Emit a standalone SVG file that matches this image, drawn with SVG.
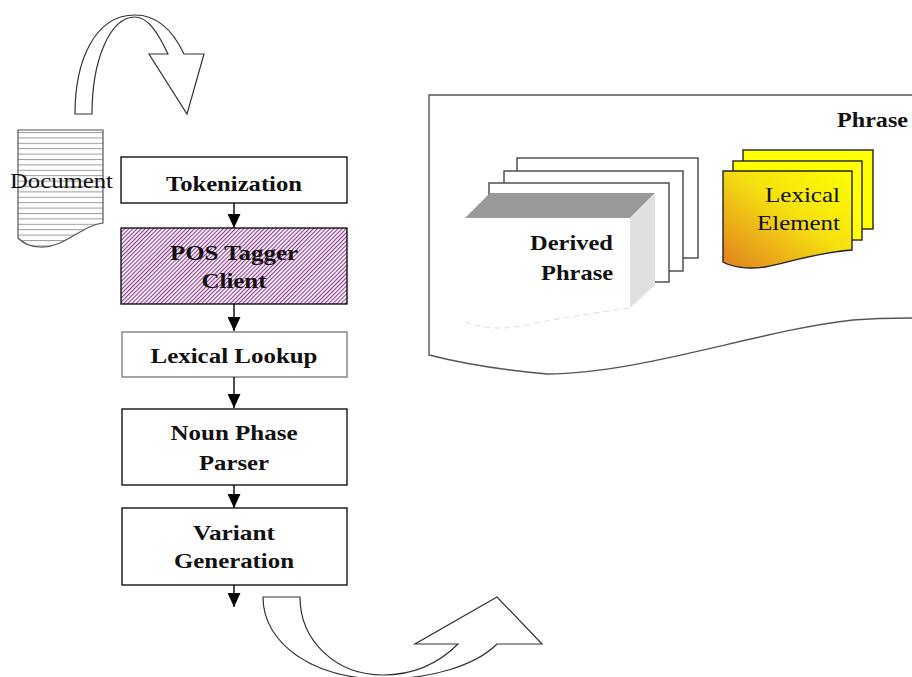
<svg xmlns="http://www.w3.org/2000/svg" width="912" height="677" viewBox="0 0 912 677">
  <defs>
    <style>
      .box { fill: #fff; stroke: #000; stroke-width: 1.3; }
      .lbl { font-family: "Liberation Serif", "Times New Roman", serif; font-size: 22px; font-weight: bold; fill: #111; text-anchor: middle; }
      .reg { font-family: "Liberation Serif", "Times New Roman", serif; font-size: 22px; fill: #111; }
      .bend { fill: #fff; stroke: #333; stroke-width: 1.2; stroke-linejoin: miter; }
      .sheet { fill: #fff; stroke: #444; stroke-width: 1.4; }
      .ysheet { fill: #ffff00; stroke: #222; stroke-width: 1.4; }
      .flow { stroke: #000; stroke-width: 1.4; fill: none; marker-end: url(#head); }
    </style>
    <marker id="head" viewBox="0 0 14 13" refX="14" refY="6.5" markerWidth="14" markerHeight="13" markerUnits="userSpaceOnUse" orient="auto">
      <path d="M0,0 L14,6.5 L0,13 Z" fill="#000"/>
    </marker>
    <pattern id="hatch" patternUnits="userSpaceOnUse" width="2.9" height="6" patternTransform="rotate(45)">
      <rect width="2.9" height="6" fill="#fbf3fb"/>
      <rect width="1.1" height="6" fill="#8c3f8f"/>
    </pattern>
    <pattern id="ruled" patternUnits="userSpaceOnUse" x="0" y="132" width="10" height="5.4">
      <rect width="10" height="5.4" fill="#fff"/>
      <rect y="0" width="10" height="1" fill="#9a9a9a"/>
    </pattern>
    <linearGradient id="lexfill" x1="0" y1="1" x2="1" y2="0">
      <stop offset="0" stop-color="#e07f20"/>
      <stop offset="0.55" stop-color="#f5e010"/>
      <stop offset="1" stop-color="#ffff00"/>
    </linearGradient>
  </defs>

  <!-- curved arrow entering the pipeline -->
  <g id="arrow-in">
    <path class="bend" d="M75,114 C75,60 95,15 135,15 C160,15 175,35 184,54 L204,54 L187,114 L149,54 L168,54 C158,33 148,17 135,17 C110,17 92,60 92,114 Z"/>
  </g>

  <!-- source document -->
  <g id="document">
    <path d="M18,130 H103 V223 C80,226 65,248 40,247 C30,247 22,242 18,238 Z" fill="url(#ruled)" stroke="#555" stroke-width="1.2"/>
    <text class="reg" x="10" y="188" textLength="103" lengthAdjust="spacingAndGlyphs">Document</text>
  </g>

  <!-- pipeline stages -->
  <g id="tokenization">
    <rect class="box" x="121" y="157" width="226" height="46"/>
    <text class="lbl" x="234" y="191" textLength="136" lengthAdjust="spacingAndGlyphs">Tokenization</text>
  </g>
  <g id="pos-tagger">
    <rect x="121" y="228" width="226" height="76" fill="url(#hatch)" stroke="#000" stroke-width="1.3"/>
    <text class="lbl" x="234" y="260" textLength="128" lengthAdjust="spacingAndGlyphs">POS Tagger</text>
    <text class="lbl" x="234" y="288" textLength="65" lengthAdjust="spacingAndGlyphs">Client</text>
  </g>
  <g id="lexical-lookup">
    <rect x="122" y="332" width="225" height="45" fill="#fff" stroke="#888" stroke-width="1.5"/>
    <text class="lbl" x="234" y="363" textLength="167" lengthAdjust="spacingAndGlyphs">Lexical Lookup</text>
  </g>
  <g id="noun-phrase-parser">
    <rect class="box" x="122" y="409" width="225" height="76"/>
    <text class="lbl" x="234" y="440" textLength="127" lengthAdjust="spacingAndGlyphs">Noun Phase</text>
    <text class="lbl" x="234" y="470" textLength="70" lengthAdjust="spacingAndGlyphs">Parser</text>
  </g>
  <g id="variant-generation">
    <rect class="box" x="122" y="508" width="225" height="77"/>
    <text class="lbl" x="234" y="540" textLength="82" lengthAdjust="spacingAndGlyphs">Variant</text>
    <text class="lbl" x="234" y="568" textLength="120" lengthAdjust="spacingAndGlyphs">Generation</text>
  </g>

  <!-- connectors between stages -->
  <g id="connectors">
    <line class="flow" x1="234" y1="203" x2="234" y2="228"/>
    <line class="flow" x1="234" y1="304" x2="234" y2="331"/>
    <line class="flow" x1="234" y1="377" x2="234" y2="408"/>
    <line class="flow" x1="234" y1="485" x2="234" y2="508"/>
    <line class="flow" x1="234" y1="585" x2="234" y2="607"/>
  </g>

  <!-- curved arrow leaving the pipeline -->
  <g id="arrow-out">
    <path class="bend" d="M263,597 L300,597 C300,640 335,675 383,675 C415,675 440,662 458,644 L415,644 L497,597 L542,644 L497,644 C475,666 430,679 383,679 C315,679 263,645 263,597 Z"/>
  </g>

  <!-- phrase container -->
  <g id="phrase">
    <path d="M429,95 H916 V318 C885,318 865,319 853,320 C760,330 640,374 547,374 Q480,368 429,355 Z" fill="#fff" stroke="#555" stroke-width="1.4"/>
    <text class="lbl" x="837" y="127" style="text-anchor:start" textLength="71" lengthAdjust="spacingAndGlyphs">Phrase</text>
  </g>

  <!-- derived phrase stack -->
  <g id="derived-phrase">
    <rect class="sheet" x="517" y="158" width="181" height="100"/>
    <rect class="sheet" x="504" y="171" width="179" height="100"/>
    <rect class="sheet" x="489" y="183" width="180" height="99"/>
    <path d="M465,218 H630 V308 C600,312 560,318 520,326 C495,330 475,326 465,322 Z" fill="#fff"/>
    <path d="M465,322 C480,328 500,330 520,326 C560,318 600,312 630,308" fill="none" stroke="#ddd" stroke-width="1" stroke-dasharray="6,4"/>
    <path d="M465,218 L490,193 H655 L630,218 Z" fill="#999"/>
    <path d="M630,218 L655,193 V285 L630,308 Z" fill="#e0e0e0"/>
    <text class="lbl" x="613" y="250" style="text-anchor:end" textLength="83" lengthAdjust="spacingAndGlyphs">Derived</text>
    <text class="lbl" x="613" y="280" style="text-anchor:end" textLength="72" lengthAdjust="spacingAndGlyphs">Phrase</text>
  </g>

  <!-- lexical element stack -->
  <g id="lexical-element">
    <rect class="ysheet" x="743" y="150" width="130" height="79"/>
    <rect class="ysheet" x="733" y="161" width="129" height="79"/>
    <path d="M723,171 H852 V250 C820,252 790,262 765,267 C745,270 730,266 723,262 Z" fill="url(#lexfill)" stroke="#222" stroke-width="1.4"/>
    <text class="reg" x="840" y="202" style="text-anchor:end" textLength="75" lengthAdjust="spacingAndGlyphs">Lexical</text>
    <text class="reg" x="840" y="230" style="text-anchor:end" textLength="83" lengthAdjust="spacingAndGlyphs">Element</text>
  </g>
</svg>
